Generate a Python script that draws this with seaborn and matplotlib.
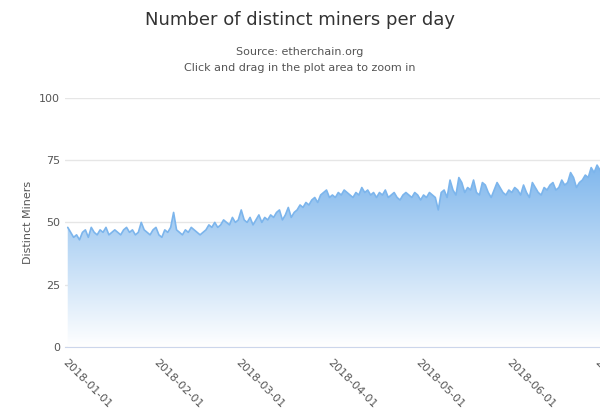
import numpy as np
import pandas as pd
import matplotlib
matplotlib.use('Agg')
import matplotlib.pyplot as plt
import matplotlib.dates as mdates
import seaborn as sns

jan = [48, 46, 44, 45, 43, 46, 47, 44, 48, 46, 45, 47, 46, 48, 45, 46, 47, 46, 45, 47, 48, 46, 47, 45, 46, 50, 47, 46, 45, 47, 48]
feb = [45, 44, 47, 46, 48, 54, 47, 46, 45, 47, 46, 48, 47, 46, 45, 46, 47, 49, 48, 50, 48, 49, 51, 50, 49, 52, 50, 51]
mar = [55, 51, 50, 52, 49, 51, 53, 50, 52, 51, 53, 52, 54, 55, 51, 53, 56, 52, 54, 55, 57, 56, 58, 57, 59, 60, 58, 61, 62, 63, 60]
apr = [61, 60, 62, 61, 63, 62, 61, 60, 62, 61, 64, 62, 63, 61, 62, 60, 62, 61, 63, 60, 61, 62, 60, 59, 61, 62, 61, 60, 62, 61]
may = [59, 61, 60, 62, 61, 60, 55, 62, 63, 60, 67, 63, 61, 68, 66, 62, 64, 63, 67, 62, 61, 66, 65, 62, 60, 63, 66, 64, 62, 61, 63]
jun = [62, 64, 63, 61, 65, 62, 60, 66, 64, 62, 61, 64, 63, 65, 66, 63, 64, 67, 65, 66, 70, 68, 64, 66, 67, 69, 68, 72, 70, 73]
jul = [71, 70]

miners = jan + feb + mar + apr + may + jun + jul
dates = pd.date_range('2018-01-01', periods=len(miners), freq='D')
df = pd.DataFrame({'date': dates, 'miners': miners})

tick_labels = ['2018-01-01', '2018-02-01', '2018-03-01', '2018-04-01', '2018-05-01', '2018-06-01', '2018-07-01']

sns.set_style('white')
plt.rcParams['font.family'] = ['DejaVu Sans']

fig = plt.figure(figsize=(6, 4.2), dpi=100)
ax = fig.add_axes([0.108, 0.174, 0.892, 0.593])

sns.lineplot(data=df, x='date', y='miners', ax=ax, color='#7cb5ec', lw=1.2)
fill = ax.fill_between(df['date'], df['miners'], 0, color='none')

xlim = (mdates.date2num(pd.Timestamp('2017-12-31')), mdates.date2num(pd.Timestamp('2018-07-01')))
grad = np.linspace(1, 0, 256).reshape(-1, 1)
cmap = matplotlib.colors.LinearSegmentedColormap.from_list('g', ['#ffffff', '#7cb5ec'])
im = ax.imshow(grad, aspect='auto', cmap=cmap, extent=[xlim[0], xlim[1], 0, 75], origin='upper', zorder=1)
im.set_clip_path(fill.get_paths()[0], transform=ax.transData)

ax.set_xlim(*xlim)
ax.set_ylim(0, 100)
ax.set_yticks([0, 25, 50, 75, 100])
ax.yaxis.grid(True, color='#e6e6e6', lw=1)
ax.set_axisbelow(True)
ax.set_xticks([mdates.date2num(pd.Timestamp(t)) for t in tick_labels])
ax.set_xticklabels(tick_labels, rotation=-45, ha='left', rotation_mode='anchor', fontsize=8, color='#555555')
ax.tick_params(axis='y', labelsize=8, labelcolor='#555555', length=0)
ax.tick_params(axis='x', length=4, color='#ccd6eb')
ax.set_xlabel('')
ax.set_ylabel('Distinct Miners', fontsize=8, color='#555555')
for s in ['top', 'right', 'left']:
    ax.spines[s].set_visible(False)
ax.spines['bottom'].set_color('#ccd6eb')

fig.text(0.5, 0.94, 'Number of distinct miners per day', ha='center', fontsize=13, color='#333333')
fig.text(0.5, 0.87, 'Source: etherchain.org', ha='center', fontsize=8, color='#555555')
fig.text(0.5, 0.83, 'Click and drag in the plot area to zoom in', ha='center', fontsize=8, color='#555555')

fig.savefig('out.png', dpi=100)
